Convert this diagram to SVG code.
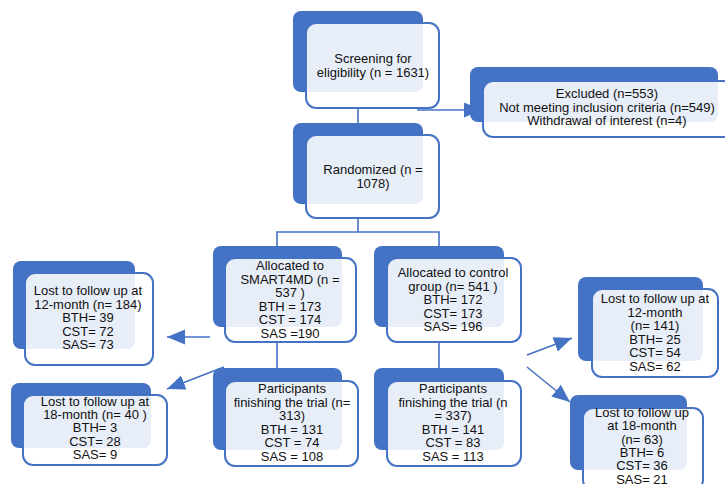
<svg xmlns="http://www.w3.org/2000/svg" width="725" height="484" viewBox="0 0 725 484">
<defs>
<style>
.bk{fill:#4472C4}
.fr{fill:#ffffff;fill-opacity:0.88;stroke:#4472C4;stroke-width:2}
.ln{stroke:#4472C4;stroke-width:1.6;fill:none}
text{font-family:"Liberation Sans",Arial,sans-serif;font-size:13px;fill:#111;text-anchor:middle}
</style>
<marker id="ah" markerUnits="userSpaceOnUse" markerWidth="20" markerHeight="16" refX="18" refY="7.5" orient="auto">
<path d="M0,0 L18,7.5 L0,15 z" fill="#4472C4"/>
</marker>
</defs>
<rect width="725" height="484" fill="#ffffff"/>
<g id="connectors">
<line class="ln" x1="358" y1="108" x2="358" y2="123"/>
<line class="ln" x1="417" y1="110" x2="482" y2="110" marker-end="url(#ah)"/>
<line class="ln" x1="358" y1="218" x2="358" y2="232"/>
<polyline class="ln" points="277,246 277,232 439,232 439,246"/>
<line class="ln" x1="277" y1="342" x2="277" y2="368"/>
<line class="ln" x1="439" y1="342" x2="439" y2="368"/>
<line class="ln" x1="210" y1="337" x2="167" y2="337" marker-end="url(#ah)"/>
<line class="ln" x1="224" y1="367" x2="167" y2="389" marker-end="url(#ah)"/>
<line class="ln" x1="527" y1="355" x2="572" y2="338" marker-end="url(#ah)"/>
<line class="ln" x1="527" y1="367" x2="570" y2="402" marker-end="url(#ah)"/>
</g>
<g id="screening">
<rect class="bk" x="293" y="11" width="130" height="81" rx="8"/>
<rect class="fr" x="306" y="23" width="133" height="85" rx="10"/>
<text x="373" y="63">Screening for</text>
<text x="373" y="77">eligibility (n = 1631)</text>
</g>
<g id="excluded">
<rect class="bk" x="470" y="67" width="248" height="55" rx="8"/>
<rect class="fr" x="483" y="81" width="250" height="56" rx="10"/>
<text x="607" y="98">Excluded (n=553)</text>
<text x="607" y="112">Not meeting inclusion criteria (n=549)</text>
<text x="607" y="125">Withdrawal of interest (n=4)</text>
</g>
<g id="randomized">
<rect class="bk" x="293" y="123" width="130" height="81" rx="8"/>
<rect class="fr" x="306" y="135" width="133" height="83" rx="10"/>
<text x="373" y="174">Randomized (n =</text>
<text x="373" y="188">1078)</text>
</g>
<g id="smart4md">
<rect class="bk" x="213" y="246" width="129" height="81" rx="8"/>
<rect class="fr" x="225" y="258" width="131" height="84" rx="10"/>
<text x="290" y="270">Allocated to</text>
<text x="290" y="283.6">SMART4MD (n =</text>
<text x="290" y="297.2">537 )</text>
<text x="290" y="310.8">BTH = 173</text>
<text x="290" y="324.4">CST = 174</text>
<text x="290" y="338">SAS =190</text>
</g>
<g id="control">
<rect class="bk" x="374" y="246" width="130" height="81" rx="8"/>
<rect class="fr" x="387" y="258" width="134" height="84" rx="10"/>
<text x="453" y="277">Allocated to control</text>
<text x="453" y="290.5">group (n= 541 )</text>
<text x="453" y="304">BTH= 172</text>
<text x="453" y="317.5">CST= 173</text>
<text x="453" y="331">SAS= 196</text>
</g>
<g id="lost12left">
<rect class="bk" x="13" y="261" width="122" height="88" rx="8"/>
<rect class="fr" x="25" y="273" width="128" height="92" rx="10"/>
<text x="88" y="295">Lost to follow up at</text>
<text x="88" y="308.5">12-month (n= 184)</text>
<text x="88" y="322">BTH= 39</text>
<text x="88" y="335.5">CST= 72</text>
<text x="88" y="349">SAS= 73</text>
</g>
<g id="lost12right">
<rect class="bk" x="578" y="277" width="125" height="84" rx="8"/>
<rect class="fr" x="592" y="289" width="126" height="88" rx="10"/>
<text x="655" y="303">Lost to follow up at</text>
<text x="655" y="316.6">12-month</text>
<text x="655" y="330.2">(n= 141)</text>
<text x="655" y="343.8">BTH= 25</text>
<text x="655" y="357.4">CST= 54</text>
<text x="655" y="371">SAS= 62</text>
</g>
<g id="lost18left">
<rect class="bk" x="11" y="383" width="140" height="65" rx="8"/>
<rect class="fr" x="23" y="395" width="144" height="70" rx="10"/>
<text x="95" y="406">Lost to follow up at</text>
<text x="95" y="419">18-month (n= 40 )</text>
<text x="95" y="432">BTH= 3</text>
<text x="95" y="445.5">CST= 28</text>
<text x="95" y="459">SAS= 9</text>
</g>
<g id="finishsmart">
<rect class="bk" x="213" y="368" width="129" height="82" rx="8"/>
<rect class="fr" x="225" y="381" width="133" height="85" rx="10"/>
<text x="292" y="393">Participants</text>
<text x="292" y="406.6">finishing the trial (n=</text>
<text x="292" y="420.2">313)</text>
<text x="292" y="433.8">BTH = 131</text>
<text x="292" y="447.4">CST = 74</text>
<text x="292" y="461">SAS = 108</text>
</g>
<g id="finishcontrol">
<rect class="bk" x="374" y="368" width="130" height="82" rx="8"/>
<rect class="fr" x="387" y="381" width="134" height="85" rx="10"/>
<text x="453" y="393">Participants</text>
<text x="453" y="406.6">finishing the trial (n</text>
<text x="453" y="420.2">= 337)</text>
<text x="453" y="433.8">BTH = 141</text>
<text x="453" y="447.4">CST = 83</text>
<text x="453" y="461">SAS = 113</text>
</g>
<g id="lost18right">
<rect class="bk" x="570" y="395" width="117" height="75" rx="8"/>
<rect class="fr" x="583" y="408" width="120" height="82" rx="10"/>
<text x="642" y="417">Lost to follow up</text>
<text x="642" y="430.3">at 18-month</text>
<text x="642" y="443.6">(n= 63)</text>
<text x="642" y="456.9">BTH= 6</text>
<text x="642" y="470.2">CST= 36</text>
<text x="642" y="483.5">SAS= 21</text>
</g>
</svg>
